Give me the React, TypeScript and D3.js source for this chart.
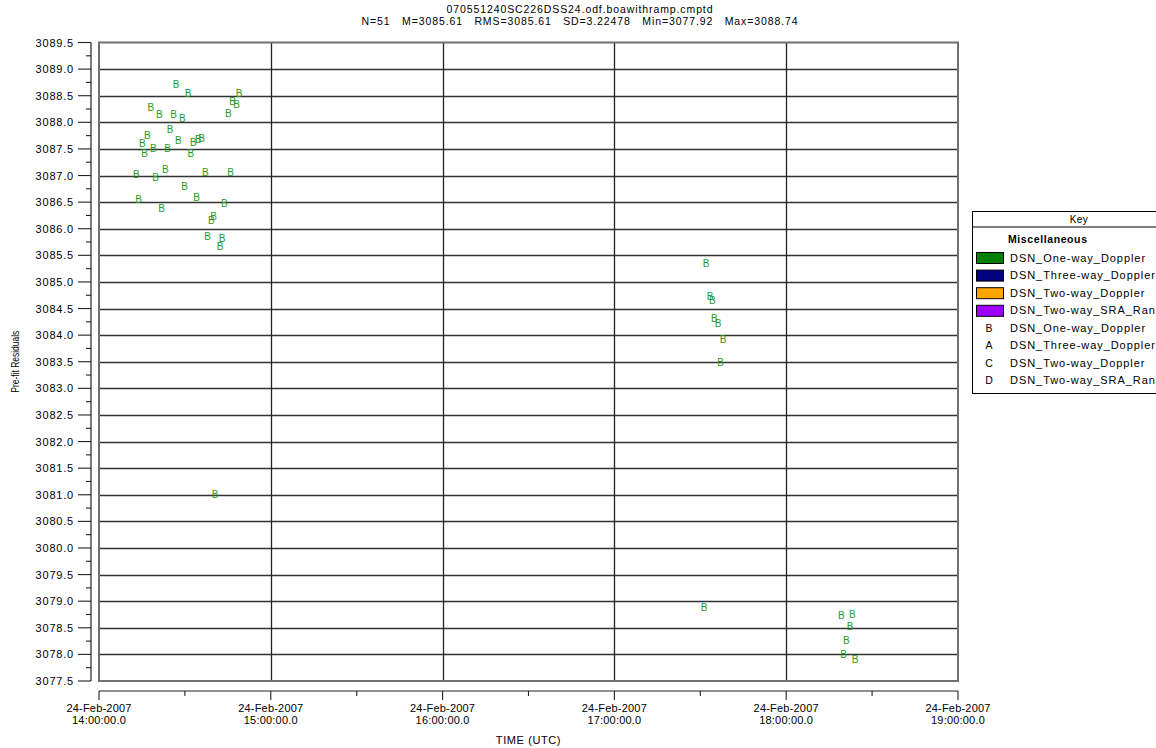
import React from "react";
import * as d3 from "d3";

// ---------- DATA ----------
const titleLines = [
  "070551240SC226DSS24.odf.boawithramp.cmptd",
  "N=51   M=3085.61   RMS=3085.61   SD=3.22478   Min=3077.92   Max=3088.74",
];
const startISO = "2007-02-24T14:00:00Z";
const endISO = "2007-02-24T19:00:00Z";
// minutes after 14:00:00 UTC
const obsMinutes = [
  26.89, 31.08, 48.89, 46.69, 48.09, 18.06, 21.06, 26.09, 29.09, 45.16,
  24.8, 16.87, 27.69, 15.12, 32.93, 34.68, 35.87, 18.96, 23.99, 15.96,
  32.03, 23.15, 13.03, 19.8, 37.12, 45.99, 29.93, 13.86, 34.12, 43.76,
  21.9, 40.06, 39.22, 37.96, 42.96, 42.26, 40.51,
  211.99, 213.39, 214.19, 214.89, 216.18, 217.93, 217.12,
  211.29, 259.24, 263.08, 262.28, 260.99, 260.08, 264.03,
];
const residuals = [
  3088.72, 3088.54, 3088.55, 3088.4, 3088.34, 3088.28, 3088.14, 3088.14, 3088.07, 3088.17,
  3087.87, 3087.76, 3087.66, 3087.6, 3087.63, 3087.68, 3087.7, 3087.51, 3087.51, 3087.42,
  3087.42, 3087.12, 3087.02, 3086.96, 3087.05, 3087.06, 3086.8, 3086.56, 3086.59, 3086.47,
  3086.39, 3086.24, 3086.16, 3085.86, 3085.82, 3085.66, 3081.01,
  3085.34, 3084.73, 3084.65, 3084.32, 3084.22, 3083.92, 3083.48,
  3078.88, 3078.73, 3078.75, 3078.53, 3078.27, 3078.0, 3077.91,
];
const pointLetter = "B";
const yDomain = [3077.5, 3089.5];
const yMajorStep = 0.5;
const yMinorStep = 0.25;
const legendTitle = "Key";
const legendGroup = "Miscellaneous";
const legendSwatchNames = [
  "DSN_One-way_Doppler",
  "DSN_Three-way_Doppler",
  "DSN_Two-way_Doppler",
  "DSN_Two-way_SRA_Range",
];
const legendSwatchColors = ["#008000", "#000080", "#FFA500", "#A000FF"];
const legendLetters = ["B", "A", "C", "D"];
const legendLetterNames = [
  "DSN_One-way_Doppler",
  "DSN_Three-way_Doppler",
  "DSN_Two-way_Doppler",
  "DSN_Two-way_SRA_Range",
];
const xAxisTitle = "TIME (UTC)";
const yAxisTitle = "Pre-fit Residuals";

// ---------- LAYOUT ----------
const W = 1156;
const H = 748;
const plotL = 99;
const plotR = 958;
const plotT = 42.5;
const plotB = 681;
const font = "'Liberation Sans', Arial, sans-serif";
const pointColor = "#269a26";

export default function App() {
  const x = d3
    .scaleUtc()
    .domain([new Date(startISO), new Date(endISO)])
    .range([plotL, plotR]);
  const y = d3.scaleLinear().domain(yDomain).range([plotB, plotT]);

  const start = new Date(startISO).getTime();
  const pts = obsMinutes.map((m, i) => ({
    t: new Date(start + m * 60000),
    v: residuals[i],
  }));

  const nMajor = Math.round((yDomain[1] - yDomain[0]) / yMajorStep);
  const yMajor = d3.range(nMajor + 1).map((i) => yDomain[0] + i * yMajorStep);
  const nMinor = Math.round((yDomain[1] - yDomain[0]) / yMinorStep);
  const yMinor = d3
    .range(nMinor + 1)
    .map((i) => yDomain[0] + i * yMinorStep)
    .filter((_, i) => i % 2 === 1);

  const xMajor = x.ticks(d3.utcHour.every(1)!);
  const xMinor = x.ticks(d3.utcMinute.every(30)!).filter((d) => d.getUTCMinutes() === 30);
  const fDate = d3.utcFormat("%d-%b-%Y");
  const fTime = d3.utcFormat("%H:%M:%S");
  const fY = d3.format(".1f");

  const axisX = 91;
  const xAxisY = 691;
  const legX = 972;
  const legY = 211;

  return (
    <svg
      width={W}
      height={H}
      style={{ position: "absolute", left: 0, top: 0, display: "block", background: "#fff" }}
      fontFamily={font}
    >
      <rect x={0} y={0} width={W} height={H} fill="#fff" />
      {/* title */}
      {titleLines.map((t, i) => (
        <text
          key={i}
          x={580}
          y={13 + i * 12}
          textAnchor="middle"
          fontSize={10.5}
          letterSpacing={0.9}
          fill="#000"
          style={{ whiteSpace: "pre" }}
        >
          {t}
        </text>
      ))}

      {/* gridlines */}
      {yMajor.slice(1, -1).map((v) => (
        <line
          key={"gy" + v}
          x1={plotL}
          x2={plotR}
          y1={Math.round(y(v)) + 0.5}
          y2={Math.round(y(v)) + 0.5}
          stroke="#333"
          strokeWidth={1.3}
        />
      ))}
      {xMajor.slice(1, -1).map((d) => (
        <line
          key={"gx" + d.getTime()}
          x1={Math.round(x(d)) + 0.5}
          x2={Math.round(x(d)) + 0.5}
          y1={plotT}
          y2={plotB}
          stroke="#222"
          strokeWidth={1.3}
        />
      ))}
      {/* plot border */}
      <rect
        x={plotL}
        y={plotT}
        width={plotR - plotL}
        height={plotB - plotT}
        fill="none"
        stroke="#707070"
        strokeWidth={2}
      />

      {/* y axis */}
      <line x1={axisX} x2={axisX} y1={plotT} y2={plotB} stroke="#222" strokeWidth={1.2} />
      {yMajor.map((v) => (
        <g key={"yt" + v}>
          <line x1={axisX - 13} x2={axisX} y1={y(v)} y2={y(v)} stroke="#222" strokeWidth={1.1} />
          <text
            x={axisX - 17}
            y={y(v) + 4}
            textAnchor="end"
            fontSize={11}
            letterSpacing={0.8}
            fill="#000"
          >
            {fY(v)}
          </text>
        </g>
      ))}
      {yMinor.map((v) => (
        <line key={"ym" + v} x1={axisX - 5} x2={axisX} y1={y(v)} y2={y(v)} stroke="#222" strokeWidth={1.1} />
      ))}
      <text
        transform={`translate(19,${(plotT + plotB) / 2}) rotate(-90)`}
        textAnchor="middle"
        fontSize={11}
        textLength={62}
        lengthAdjust="spacingAndGlyphs"
        fill="#000"
      >
        {yAxisTitle}
      </text>

      {/* x axis */}
      <line x1={plotL} x2={plotR} y1={xAxisY} y2={xAxisY} stroke="#222" strokeWidth={1.2} />
      {xMajor.map((d) => (
        <g key={"xt" + d.getTime()}>
          <line x1={x(d)} x2={x(d)} y1={xAxisY} y2={xAxisY + 9} stroke="#222" strokeWidth={1.1} />
          <text x={x(d)} y={712} textAnchor="middle" fontSize={11} letterSpacing={0.2} fill="#000">
            {fDate(d)}
          </text>
          <text x={x(d)} y={724} textAnchor="middle" fontSize={11} letterSpacing={0.2} fill="#000">
            {fTime(d) + ".0"}
          </text>
        </g>
      ))}
      {xMinor.map((d) => (
        <line key={"xm" + d.getTime()} x1={x(d)} x2={x(d)} y1={xAxisY} y2={xAxisY + 5} stroke="#222" strokeWidth={1.1} />
      ))}
      <text
        x={(plotL + plotR) / 2}
        y={744}
        textAnchor="middle"
        fontSize={11}
        letterSpacing={0.6}
        fill="#000"
      >
        {xAxisTitle}
      </text>

      {/* points */}
      {pts.map((p, i) => (
        <text
          key={"p" + i}
          x={x(p.t)}
          y={y(p.v) + 3.6}
          textAnchor="middle"
          fontSize={10}
          fill={pointColor}
        >
          {pointLetter}
        </text>
      ))}

      {/* legend */}
      <g>
        <rect x={legX + 0.5} y={legY + 0.5} width={214} height={182} fill="#fff" stroke="#000" strokeWidth={1} />
        <line x1={legX} x2={legX + 215} y1={legY + 16} y2={legY + 16} stroke="#000" strokeWidth={1} />
        <text x={legX + 107} y={legY + 11.5} textAnchor="middle" fontSize={10} letterSpacing={0.5} fill="#000">
          {legendTitle}
        </text>
        <text x={1008} y={242.5} fontSize={10.5} fontWeight="bold" letterSpacing={0.6} fill="#000">
          {legendGroup}
        </text>
        {legendSwatchNames.map((n, i) => (
          <g key={"ls" + i}>
            <rect
              x={976.5}
              y={252.5 + i * 17.6}
              width={27}
              height={11}
              fill={legendSwatchColors[i]}
              stroke="#000"
              strokeWidth={1}
            />
            <text x={1010} y={261.5 + i * 17.6} fontSize={11} letterSpacing={0.95} fill="#000">
              {n}
            </text>
          </g>
        ))}
        {legendLetterNames.map((n, i) => (
          <g key={"ll" + i}>
            <text x={989} y={331.5 + i * 17.6} textAnchor="middle" fontSize={10.5} fill="#000">
              {legendLetters[i]}
            </text>
            <text x={1010} y={331.5 + i * 17.6} fontSize={11} letterSpacing={0.95} fill="#000">
              {n}
            </text>
          </g>
        ))}
      </g>
    </svg>
  );
}
